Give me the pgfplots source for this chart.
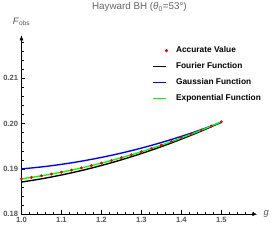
\documentclass[border=0pt]{standalone}
\usepackage{pgfplots}
\pgfplotsset{compat=1.18}
\usepackage{fontspec}
\setmainfont{Liberation Sans}
\usetikzlibrary{arrows.meta}
\definecolor{tickgray}{RGB}{85,85,85}
\definecolor{titlegray}{RGB}{100,100,100}
\definecolor{mgreen}{RGB}{0,255,0}
\begin{document}
\begin{tikzpicture}
\begin{axis}[
  scale only axis, width=240pt, height=182pt,
  xmin=1, xmax=1.59, ymin=0.18, ymax=0.2195,
  axis lines=left,
  axis line style={line width=0.6pt, -{Latex[length=5pt,width=4pt]}},
  xtick={1,1.1,1.2,1.3,1.4,1.5},
  minor xtick={1.02,1.04,1.06,1.08,1.12,1.14,1.16,1.18,1.22,1.24,1.26,1.28,1.32,1.34,1.36,1.38,1.42,1.44,1.46,1.48,1.52,1.54,1.56,1.58},
  ytick={0.18,0.19,0.2,0.21},
  minor ytick={0.182,0.184,0.186,0.188,0.192,0.194,0.196,0.198,0.202,0.204,0.206,0.208,0.212,0.214,0.216,0.218},
  tick align=inside,
  major tick length=4pt, minor tick length=2.5pt,
  every tick/.style={black, line width=0.5pt},
  tick label style={font=\fontsize{7.7}{8}\selectfont\bfseries, text=tickgray},
  /pgf/number format/assume math mode=true,
  xticklabel style={/pgf/number format/.cd, fixed, fixed zerofill, precision=1},
  yticklabel style={/pgf/number format/.cd, fixed, fixed zerofill, precision=2},
  scaled y ticks=false,
  title={Hayward BH (\textit{θ}\textsubscript{0}=53°)},
  title style={at={(axis description cs:0.5,1)}, anchor=south, yshift=18pt, font=\fontsize{10}{11}\selectfont, text=titlegray, inner sep=0pt},
  xlabel={\textit{g}},
  xlabel style={at={(axis description cs:1,0)}, anchor=west, xshift=3pt, font=\fontsize{9.5}{10}\selectfont, text=tickgray},
  ylabel={\textit{F}\textsubscript{obs}},
  ylabel style={at={(axis description cs:0,1)}, anchor=south, rotate=-90, yshift=6pt, font=\fontsize{9.5}{10}\selectfont, text=tickgray},
  legend style={at={(axis description cs:0.553,0.948)}, anchor=north west, draw=none, fill=none,
    font=\fontsize{8.5}{9}\selectfont\bfseries, row sep=4.5pt, inner sep=0pt,
    /tikz/every odd column/.append style={column sep=6pt}},
  legend cell align=left,
]
\addlegendimage{legend image code/.code={\fill[red] (14pt,0pt) circle (1.5pt);}}
\addlegendentry{Accurate Value}
\addlegendimage{legend image code/.code={\draw[black, line width=1.4pt] (0pt,0pt) -- (13pt,0pt);}}
\addlegendentry{Fourier Function}
\addlegendimage{legend image code/.code={\draw[blue, line width=1.4pt] (0pt,0pt) -- (13pt,0pt);}}
\addlegendentry{Gaussian Function}
\addlegendimage{legend image code/.code={\draw[mgreen, line width=1.4pt] (0pt,0pt) -- (13pt,0pt);}}
\addlegendentry{Exponential Function}

\addplot[black, line width=1.4pt, smooth, forget plot] coordinates {
(1.00,0.18710) (1.05,0.18781) (1.10,0.18866) (1.15,0.18964) (1.20,0.19076)
(1.25,0.19201) (1.30,0.19340) (1.35,0.19492) (1.40,0.19658) (1.45,0.19837) (1.50,0.20030)};
\addplot[blue, line width=1.4pt, smooth, forget plot] coordinates {
(1.00,0.19000) (1.05,0.19044) (1.10,0.19101) (1.15,0.19171) (1.20,0.19254)
(1.25,0.19350) (1.30,0.19460) (1.35,0.19583) (1.40,0.19719) (1.45,0.19868) (1.50,0.20030)};
\addplot[mgreen, line width=1.4pt, smooth, forget plot] coordinates {
(1.00,0.18780) (1.05,0.18848) (1.10,0.18928) (1.15,0.19022) (1.20,0.19128)
(1.25,0.19248) (1.30,0.19380) (1.35,0.19526) (1.40,0.19684) (1.45,0.19856) (1.50,0.20040)};
\addplot[only marks, mark=*, mark size=1.3pt, red, forget plot] coordinates {
(1.000,0.18780) (1.025,0.18812) (1.050,0.18848) (1.075,0.18886) (1.100,0.18928)
(1.125,0.18973) (1.150,0.19022) (1.175,0.19073) (1.200,0.19128) (1.225,0.19186)
(1.250,0.19248) (1.275,0.19312) (1.300,0.19380) (1.325,0.19451) (1.350,0.19526)
(1.375,0.19603) (1.400,0.19684) (1.425,0.19768) (1.450,0.19856) (1.475,0.19946)
(1.500,0.20040)};
\end{axis}
\path (current axis.south west) ++(-17pt,-27pt) rectangle ++(273pt,245pt);
\end{tikzpicture}
\end{document}
